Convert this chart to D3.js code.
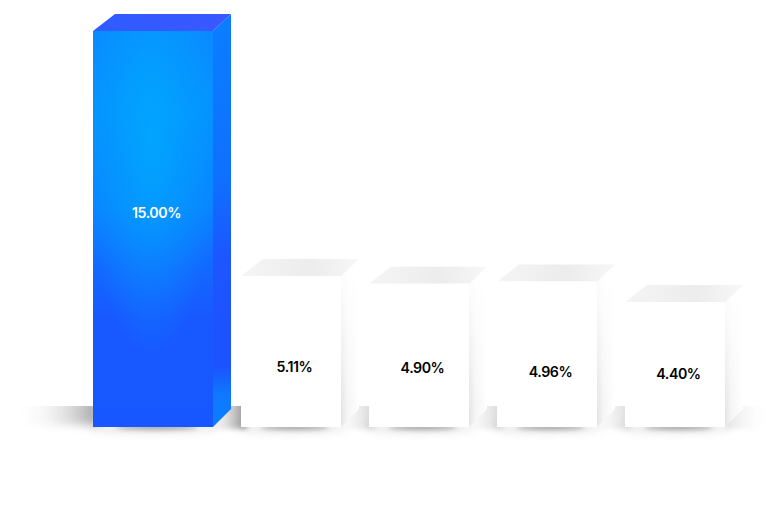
<!DOCTYPE html>
<html>
<head>
<meta charset="utf-8">
<script src="https://d3js.org/d3.v7.min.js"></script>
<style>
  html, body { margin: 0; padding: 0; background: #fff; }
  svg { display: block; }
  text { font-family: Inter, Lato, sans-serif; font-weight: 600; letter-spacing: -0.45px; }
</style>
</head>
<body>
<svg id="chart"></svg>
<script>
// chart data
const categories = ["A", "B", "C", "D", "E"];
const values = [15.00, 5.11, 4.90, 4.96, 4.40];
const labels = ["15.00%", "5.11%", "4.90%", "4.96%", "4.40%"];

const svgWidth = 778;
const svgHeight = 519;
const baseY = 427;
const depth = 17;
const backInset = 22;  // back left corner of the top face
const heroExtra = 20;  // first bar is wider than the others, to the left
const labelNudge = [-17, 15, 12, 17, 9];

const svg = d3.select("#chart")
    .attr("width", svgWidth)
    .attr("height", svgHeight);

const x = d3.scaleBand()
    .domain(categories)
    .range([113, 725])
    .paddingInner(0.21875)
    .paddingOuter(0);

// bars are not to scale in the original, the tall one is squeezed
const y = d3.scaleLinear()
    .domain([4.40, 5.11, 15.00])
    .range([302, 276, 31]);

const defs = svg.append("defs");

function addLinear(id, x1, y1, x2, y2, stops) {
    const g = defs.append("linearGradient").attr("id", id)
        .attr("x1", x1).attr("y1", y1).attr("x2", x2).attr("y2", y2);
    stops.forEach(s => g.append("stop").attr("offset", s[0]).attr("stop-color", s[1]).attr("stop-opacity", s[2] === undefined ? 1 : s[2]));
}

// front of the blue bar: vertical base plus a tall glow on top
addLinear("heroFront", 0, 0, 0, 1, [[0, "#0a8aff"], [0.2, "#0592ff"], [0.45, "#0a84ff"], [0.6, "#1368ff"], [0.72, "#1859ff"], [1, "#1757ff"]]);
const glow = defs.append("radialGradient").attr("id", "heroGlow")
    .attr("cx", 0.48).attr("cy", 0.27).attr("r", 0.55);
glow.append("stop").attr("offset", 0).attr("stop-color", "#00a8ff").attr("stop-opacity", 0.85);
glow.append("stop").attr("offset", 1).attr("stop-color", "#00a8ff").attr("stop-opacity", 0);

addLinear("heroSide", 0, 0, 0, 1, [[0, "#0a7eff"], [0.4, "#0f70ff"], [0.6, "#1d55ff"], [0.85, "#1c52ff"], [0.92, "#0f78ff"], [1, "#0a80ff"]]);
addLinear("heroTop", 0, 0, 1, 0, [[0, "#2f5cff"], [1, "#3a58ff"]]);
addLinear("whiteTop", 0, 0, 1, 0, [[0, "#f5f5f5"], [0.6, "#ececec"], [1, "#f7f7f7"]]);
addLinear("whiteSide", 0, 0, 1, 0, [[0, "#e4e4e4"], [0.35, "#f5f5f5"], [1, "#ffffff"]]);
addLinear("sideFade", 0, 0, 0, 1, [[0, "#fff", 1], [0.3, "#fff", 0.7], [0.9, "#fff", 0]]);
addLinear("floor", 0, 0, 1, 0, [[0, "#fff", 0], [0.5, "#c4c4c4", 0.5], [1, "#7c7c7c", 1]]);
addLinear("floorHero", 0, 0, 1, 0, [[0, "#fff", 0], [0.45, "#dcdcdc", 0.55], [0.8, "#b0b0b0", 0.9], [1, "#8c8c8c", 1]]);

function addBlur(id, sd) {
    defs.append("filter").attr("id", id)
        .attr("x", "-40%").attr("y", "-150%").attr("width", "180%").attr("height", "400%")
        .append("feGaussianBlur").attr("stdDeviation", sd);
}
addBlur("blur2", 2.4);
addBlur("blur4", 4.5);

defs.append("clipPath").attr("id", "floorClip")
    .append("rect").attr("x", 0).attr("y", baseY - 21).attr("width", svgWidth).attr("height", 60);

function left(d, i) { return i === 0 ? x(d) - heroExtra : x(d); }
function barW(d, i) { return i === 0 ? x.bandwidth() + heroExtra : x.bandwidth(); }

// shadows on the floor, drawn first so the boxes sit on top
const floorG = svg.append("g").attr("clip-path", "url(#floorClip)");
floorG.selectAll("rect.floor")
    .data(categories)
    .join("rect")
    .attr("class", "floor")
    .attr("x", (d, i) => left(d, i) - (i === 0 ? 78 : 40))
    .attr("y", baseY - 28)
    .attr("width", (d, i) => (i === 0 ? 84 : 46))
    .attr("height", (d, i) => (i === 0 ? 26 : 30))
    .attr("fill", (d, i) => i === 0 ? "url(#floorHero)" : "url(#floor)")
    .attr("opacity", (d, i) => [0.8, 0.9, 0.35, 0.35, 0.3][i])
    .attr("filter", (d, i) => i === 0 ? "url(#blur4)" : "url(#blur2)");

// fading band to the right of the last box
floorG.append("rect")
    .attr("x", x("E") + x.bandwidth())
    .attr("y", baseY - 28)
    .attr("width", 46)
    .attr("height", 30)
    .attr("fill", "url(#floor)")
    .attr("opacity", 0.22)
    .attr("transform", `rotate(180 ${x("E") + x.bandwidth() + 23} ${baseY - 13})`)
    .attr("filter", "url(#blur2)");

// soft wide pool and tighter contact shadow under each box
svg.selectAll("ellipse.pool")
    .data(categories)
    .join("ellipse")
    .attr("class", "pool")
    .attr("cx", (d, i) => left(d, i) + barW(d, i) / 2)
    .attr("cy", baseY + 1)
    .attr("rx", (d, i) => barW(d, i) * 0.55)
    .attr("ry", 5)
    .attr("fill", "#888")
    .attr("opacity", 0.2)
    .attr("filter", "url(#blur4)");

svg.selectAll("ellipse.under")
    .data(categories)
    .join("ellipse")
    .attr("class", "under")
    .attr("cx", (d, i) => left(d, i) + barW(d, i) / 2 + 4)
    .attr("cy", baseY)
    .attr("rx", (d, i) => barW(d, i) * 0.34)
    .attr("ry", 2.5)
    .attr("fill", "#666")
    .attr("opacity", 0.6)
    .attr("filter", "url(#blur2)");

const bars = svg.selectAll("g.bar")
    .data(categories)
    .join("g")
    .attr("class", "bar");

// right face
bars.append("path")
    .attr("d", (d, i) => {
        const x1 = left(d, i) + barW(d, i);
        const t = y(values[i]);
        return `M${x1},${t}L${x1 + depth + 1},${t - depth}L${x1 + depth + 1},${baseY - depth - 1}L${x1},${baseY}Z`;
    })
    .attr("fill", (d, i) => i === 0 ? "url(#heroSide)" : "url(#whiteSide)");

// white fade over the top of the grey side faces
bars.filter((d, i) => i > 0).append("path")
    .attr("d", (d, i) => {
        const x1 = left(d, i + 1) + barW(d, i + 1);
        const t = y(values[i + 1]);
        return `M${x1},${t}L${x1 + depth + 1},${t - depth}L${x1 + depth + 1},${baseY - depth - 1}L${x1},${baseY}Z`;
    })
    .attr("fill", "url(#sideFade)");

// top face
bars.append("path")
    .attr("d", (d, i) => {
        const x0 = left(d, i), x1 = x0 + barW(d, i);
        const t = y(values[i]);
        return `M${x0},${t}L${x0 + backInset},${t - depth}L${x1 + depth + 1},${t - depth}L${x1},${t}Z`;
    })
    .attr("fill", (d, i) => i === 0 ? "url(#heroTop)" : "url(#whiteTop)");

// front face
bars.append("rect")
    .attr("x", (d, i) => left(d, i))
    .attr("y", (d, i) => y(values[i]))
    .attr("width", (d, i) => barW(d, i))
    .attr("height", (d, i) => baseY - y(values[i]))
    .attr("fill", (d, i) => i === 0 ? "url(#heroFront)" : "#fff");

// glow over the blue front only
bars.filter((d, i) => i === 0).append("rect")
    .attr("x", (d) => left(d, 0))
    .attr("y", y(values[0]))
    .attr("width", (d) => barW(d, 0))
    .attr("height", baseY - y(values[0]))
    .attr("fill", "url(#heroGlow)");

// value labels
svg.selectAll("text.value")
    .data(categories)
    .join("text")
    .attr("class", "value")
    .attr("x", (d, i) => left(d, i) + barW(d, i) / 2 + 3.5)
    .attr("y", (d, i) => (y(values[i]) + baseY) / 2 + labelNudge[i])
    .attr("text-anchor", "middle")
    .attr("dominant-baseline", "central")
    .attr("font-size", 14.2)
    .attr("fill", (d, i) => i === 0 ? "#fff" : "#000")
    .text((d, i) => labels[i]);
</script>
</body>
</html>
